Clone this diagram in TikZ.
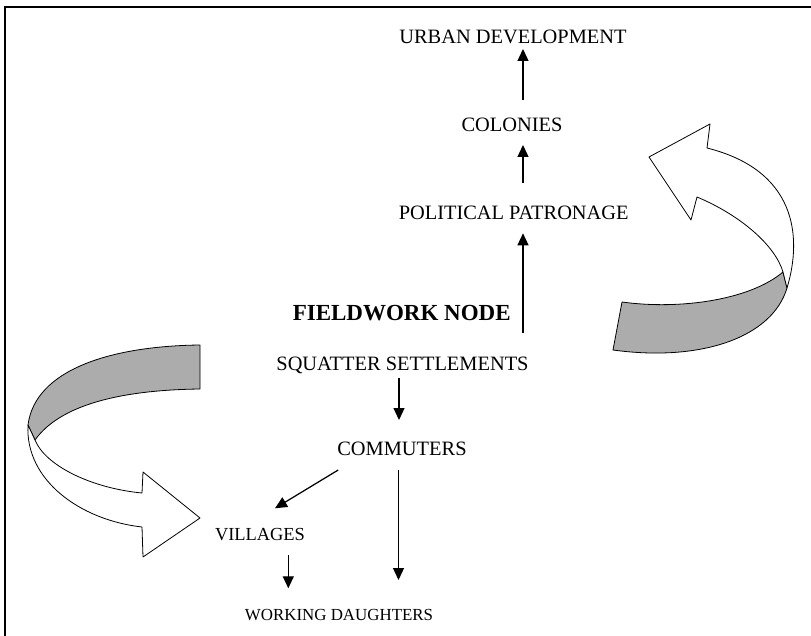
\documentclass[tikz,border=0pt]{standalone}
\usepackage{fontspec}
\setmainfont{Liberation Serif}
\usetikzlibrary{arrows.meta}
\tikzset{
  lbl/.style={anchor=base, inner sep=0pt, outer sep=0pt, text depth=0pt, text height=13pt,
    font=\fontsize{20.4}{24}\selectfont},
  lblsmall/.style={lbl, text height=12pt, font=\fontsize{18.4}{22}\selectfont},
  lbltiny/.style={lbl, text height=11.5pt, font=\fontsize{16.9}{20}\selectfont},
  lblbold/.style={lbl, text height=15pt, font=\fontsize{23}{27}\selectfont\bfseries},
  arr/.style={line width=1.25pt, -{Triangle[width=11pt,length=12pt]}},
  ribbon/.style={line width=0.8pt, line join=round},
  frameline/.style={line width=1.6pt}
}
\definecolor{ribbongray}{RGB}{172,172,172}
\begin{document}
\begin{tikzpicture}[x=1pt,y=-1pt]
\useasboundingbox (0,0) rectangle (811,636);
\fill[white] (0,0) rectangle (811,636);
% frame
\draw[frameline] (5,636) -- (5,7) -- (811,7);

% labels
\node[lbl] (urb) at (513,43.3) {URBAN DEVELOPMENT};
\node[lbl] (col) at (512,131.7) {COLONIES};
\node[lbl] (pol) at (513.7,220) {POLITICAL PATRONAGE};
\node[lblbold] (fld) at (401.7,320.7) {FIELDWORK NODE};
\node[lbl] (sq) at (402.5,370.7) {SQUATTER SETTLEMENTS};
\node[lbl] (com) at (402,455) {COMMUTERS};
\node[lblsmall] (vil) at (260,540) {VILLAGES};
\node[lbltiny] (wd) at (339,620) {WORKING DAUGHTERS};

% columns
\coordinate (cR) at (523,0);
\coordinate (cM) at (399,0);
\coordinate (cM2) at (398.5,0);
\coordinate (cL) at (288.3,0);

% arrows
\draw[arr, shorten <=18.7pt, shorten >=5.7pt] (col.north -| cR) -- (urb.south -| cR);
\draw[arr, shorten <=24pt, shorten >=13.3pt] (pol.north -| cR) -- (col.south -| cR);
\draw[arr, shorten <=24.4pt, shorten >=13.3pt] (sq.north -| cR) -- (pol.south -| cR);
\draw[arr, shorten <=7.3pt, shorten >=22pt] (sq.south -| cM) -- (com.north -| cM);
\draw[arr, shorten <=15pt, shorten >=28.5pt] (com.south -| cM2) -- (wd.north -| cM2);
\draw[arr, shorten <=15pt, shorten >=20.2pt] (vil.south -| cL) -- (wd.north -| cL);
\draw[arr] ([xshift=0.8pt,yshift=-15pt]com.south west) -- ([xshift=15pt,yshift=19.7pt]vil.north);

% right curved ribbon arrow
\filldraw[ribbon, fill=ribbongray]
  (622,302) .. controls (680,310) and (750,300) .. (783,272)
  -- (787,288)
  .. controls (772,338) and (700,362) .. (613,350)
  -- cycle;
\filldraw[ribbon, fill=white]
  (787,288) .. controls (803,235) and (795,170) .. (707,148)
  -- (710,124) -- (649,157) -- (691,220) -- (697,197)
  .. controls (740,215) and (775,245) .. (783,272)
  -- cycle;

% left curved ribbon arrow
\filldraw[ribbon, fill=ribbongray]
  (200,345) .. controls (110,346) and (35,370) .. (28,425)
  -- (35,440)
  .. controls (60,405) and (120,390) .. (200,389)
  -- cycle;
\filldraw[ribbon, fill=white]
  (28,425) .. controls (25,480) and (80,520) .. (142,527)
  -- (143,557) -- (200,518) -- (143,472) -- (142,493)
  .. controls (90,488) and (45,465) .. (35,440)
  -- cycle;
\end{tikzpicture}
\end{document}
